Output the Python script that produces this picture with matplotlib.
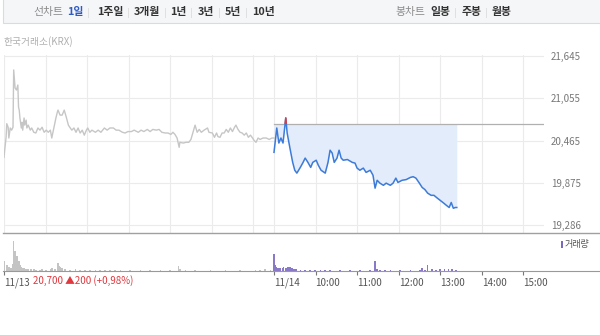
import numpy as np
import matplotlib
matplotlib.use('Agg')
import matplotlib.pyplot as plt
from matplotlib.patches import Rectangle
from matplotlib.lines import Line2D

plt.rcParams['font.family'] = ['Noto Sans CJK KR', 'DejaVu Sans']

# 11/13 (전일) 가격
prev_time = ["09:00", "09:01", "09:03", "09:04", "09:06", "09:07", "09:09", "09:11", "09:13", "09:14",
             "09:16", "09:18", "09:20", "09:21", "09:22", "09:23", "09:25", "09:26", "09:27", "09:29",
             "09:30", "09:32", "09:33", "09:35", "09:38", "09:40", "09:43", "09:46", "09:49", "09:52",
             "09:55", "09:58", "10:01", "10:04", "10:07", "10:09", "10:12", "10:15", "10:17", "10:18",
             "10:21", "10:24", "10:27", "10:30", "10:33", "10:35", "10:38", "10:41", "10:44", "10:47",
             "10:50", "10:53", "10:56", "10:59", "11:01", "11:04", "11:07", "11:12", "11:16", "11:20",
             "11:25", "11:29", "11:33", "11:38", "11:42", "11:46", "11:51", "11:55", "11:59", "12:04",
             "12:08", "12:14", "12:18", "12:22", "12:27", "12:31", "12:35", "12:40", "12:44", "12:48",
             "12:53", "12:57", "13:01", "13:04", "13:07", "13:10", "13:13", "13:14", "13:19", "13:23",
             "13:27", "13:30", "13:33", "13:36", "13:39", "13:42", "13:45", "13:49", "13:54", "13:56",
             "14:01", "14:04", "14:07", "14:09", "14:12", "14:15", "14:18", "14:21", "14:24", "14:27",
             "14:30", "14:33", "14:35", "14:38", "14:41", "14:44", "14:47", "14:50", "14:53", "14:56",
             "14:59", "15:01", "15:04", "15:07", "15:10", "15:14", "15:19", "15:23", "15:27", "15:30"]
prev_price = [20230, 20330, 20510, 20700, 20650, 20500, 20640, 20610, 20650, 21450,
              21200, 21170, 21240, 20930, 20890, 20780, 20640, 20720, 20610, 20780,
              20680, 20750, 20640, 20680, 20610, 20640, 20580, 20570, 20640, 20610,
              20650, 20580, 20610, 20580, 20610, 20500, 20640, 20780, 20860, 20890,
              20820, 20820, 20890, 20790, 20680, 20650, 20610, 20640, 20580, 20640,
              20570, 20610, 20540, 20610, 20640, 20580, 20610, 20580, 20610, 20580,
              20640, 20610, 20640, 20640, 20610, 20610, 20580, 20570, 20590, 20590,
              20610, 20580, 20610, 20590, 20620, 20590, 20620, 20610, 20620, 20580,
              20570, 20570, 20550, 20580, 20550, 20500, 20370, 20440, 20430, 20440,
              20440, 20480, 20580, 20680, 20580, 20620, 20580, 20610, 20640, 20580,
              20570, 20510, 20570, 20520, 20510, 20570, 20570, 20620, 20580, 20640,
              20590, 20650, 20680, 20620, 20580, 20570, 20540, 20570, 20510, 20540,
              20500, 20470, 20440, 20500, 20480, 20500, 20500, 20480, 20500, 20500]

# 11/14 (당일) 가격
today_time = ["09:00", "09:04", "09:07", "09:10", "09:13", "09:17", "09:19", "09:23", "09:27", "09:30",
              "09:33", "09:38", "09:42", "09:45", "09:49", "09:53", "09:56", "10:01", "10:04", "10:08",
              "10:14", "10:18", "10:21", "10:24", "10:27", "10:31", "10:34", "10:37", "10:40", "10:46",
              "10:53", "10:57", "11:00", "11:04", "11:09", "11:13", "11:19", "11:23", "11:26", "11:29",
              "11:33", "11:38", "11:42", "11:48", "11:52", "11:56", "11:59", "12:05", "12:11", "12:17",
              "12:21", "12:25", "12:30", "12:34", "12:38", "12:42", "12:47", "12:51", "12:56", "13:00",
              "13:04", "13:09", "13:13", "13:16", "13:19", "13:22", "13:24"]
today_price = [20300, 20640, 20430, 20500, 20430, 20780, 20570, 20360, 20160, 20050,
               20010, 20090, 20160, 20220, 20160, 20090, 20160, 20190, 20120, 20050,
               20010, 20160, 20330, 20290, 20160, 20220, 20330, 20220, 20190, 20200,
               20160, 20150, 20080, 20050, 20080, 20020, 20050, 19980, 19800, 19910,
               19870, 19840, 19870, 19840, 19870, 19940, 19880, 19910, 19920, 19950,
               19960, 19940, 19870, 19810, 19780, 19730, 19700, 19700, 19660, 19630,
               19600, 19560, 19530, 19600, 19520, 19530, 19530]

base_price = 20700

# 거래량
prev_vol_time = ["09:00", "09:01", "09:04", "09:07", "09:10", "09:13", "09:14", "09:16", "09:17", "09:19",
                 "09:20", "09:22", "09:23", "09:25", "09:26", "09:29", "09:32", "09:35", "09:38", "09:40",
                 "09:43", "09:46", "09:52", "09:55", "10:01", "10:07", "10:09", "10:14", "10:17", "10:18",
                 "10:20", "10:21", "10:24", "10:28", "10:35", "10:43", "10:50", "10:57", "11:04", "11:12",
                 "11:19", "11:26", "11:33", "11:40", "11:48", "12:02", "12:17", "12:31", "12:46", "13:00",
                 "13:12", "13:14", "13:22", "13:36", "13:58", "14:20", "14:41", "15:03", "15:10", "15:17",
                 "15:25", "15:30"]
prev_vol = [10000, 6000, 6000, 4000, 3000, 7000, 30000, 20000, 14000, 15000,
            8000, 10000, 6000, 4000, 3000, 3000, 2000, 2000, 2000, 2000,
            2000, 1500, 1500, 2000, 1000, 2000, 3000, 2000, 6000, 8000,
            5000, 4000, 3000, 2000, 1000, 2000, 1000, 1000, 1000, 1000,
            1000, 1000, 1000, 1000, 1500, 1000, 1000, 1000, 1000, 1000,
            5000, 2000, 1000, 1500, 1500, 1000, 1000, 1000, 1500, 2000,
            1500, 1500]

today_vol_time = ["09:00", "09:01", "09:02", "09:03", "09:06", "09:09", "09:12", "09:14", "09:17", "09:20",
                  "09:23", "09:26", "09:29", "09:32", "09:38", "09:45", "09:52", "09:59", "10:07", "10:14",
                  "10:21", "10:35", "10:50", "11:04", "11:19", "11:26", "11:29", "11:33", "11:40", "11:48",
                  "12:02", "12:17", "12:31", "12:34", "12:38", "12:42", "12:48", "12:54", "13:00", "13:06",
                  "13:12", "13:17", "13:23"]
today_vol = [17000, 8000, 6000, 4000, 3000, 3000, 3000, 4000, 3000, 4000,
             4000, 3000, 2000, 2000, 1500, 1000, 1500, 1000, 1000, 1500,
             1000, 1000, 1000, 1500, 1500, 10000, 2000, 1500, 1000, 1000,
             1000, 1000, 1500, 3000, 1000, 6000, 2000, 1000, 2000, 2000,
             2000, 2000, 1500]

y_ticks = [19286, 19875, 20465, 21055, 21645]
x_tick_pos = [0, 390, 450, 510, 570, 630, 690, 750]
x_tick_labels = ["11/13", "11/14", "10:00", "11:00", "12:00", "13:00", "14:00", "15:00"]


def to_min(hhmm, day):
    h, m = hhmm.split(':')
    return (int(h) - 9) * 60 + int(m) + day * 390


pt = np.array([to_min(t, 0) for t in prev_time])
tt = np.array([to_min(t, 1) for t in today_time])
pv_t = np.array([to_min(t, 0) for t in prev_vol_time])
tv_t = np.array([to_min(t, 1) for t in today_vol_time])
pp = np.array(prev_price)
tp = np.array(today_price)

W, H = 600, 335
fig = plt.figure(figsize=(6, 3.35), dpi=100)


def fx(px):
    return px / W


def fy(py):
    return 1 - py / H


# 상단 메뉴 바
fig.patches.append(Rectangle((fx(3), fy(23)), 1.0, 30 / H, transform=fig.transFigure,
                             facecolor='#f5f6f8', edgecolor='#d9dbe0', lw=0.8))
menu = [('선차트', 33, '#8a8a8a', 'normal'), ('1일', 67, '#2f5bc4', 'bold'),
        ('1주일', 97, '#333333', 'bold'), ('3개월', 134, '#333333', 'bold'),
        ('1년', 170, '#333333', 'bold'), ('3년', 198, '#333333', 'bold'),
        ('5년', 225, '#333333', 'bold'), ('10년', 252, '#333333', 'bold'),
        ('봉차트', 395, '#8a8a8a', 'normal'), ('일봉', 430, '#333333', 'bold'),
        ('주봉', 462, '#333333', 'bold'), ('월봉', 492, '#333333', 'bold')]
for txt, x, c, w in menu:
    fig.text(fx(x), fy(12), txt, ha='left', va='center', fontsize=7.8, color=c, fontweight=w)
for x in [88, 128, 165, 191, 219, 246, 455, 486]:
    fig.add_artist(Line2D([fx(x), fx(x)], [fy(8), fy(17)], color='#e0e0e0', lw=0.7))

fig.text(fx(3), fy(42), '한국거래소(KRX)', ha='left', va='center', fontsize=7, color='#b0b0b0')

# 가격 차트
ax = fig.add_axes([fx(4), fy(233), fx(544) - fx(4), (233 - 55) / H])
ax.set_xlim(0, 780)
ax.set_ylim(19174, 21659)
for s in ax.spines.values():
    s.set_visible(False)
ax.set_xticks([])
ax.yaxis.tick_right()
ax.set_yticks(y_ticks)
ax.set_yticklabels([f"{v:,}" for v in y_ticks])
ax.tick_params(axis='y', length=0, pad=5, labelsize=7, labelcolor='#777777')
for v in y_ticks:
    ax.axhline(v, color='#ebebeb', lw=0.8, zorder=0)
for x in list(range(0, 361, 60)) + [390] + list(range(450, 751, 60)):
    ax.axvline(x, color='#ebebeb', lw=0.8, zorder=0)

ax.plot(pt, pp, color='#c6c6c6', lw=1.0, zorder=2)
ax.fill_between(tt, tp, base_price, color='#e2ecfa', lw=0, zorder=1)
ax.plot([390, 780], [base_price, base_price], color='#b0b0b0', lw=0.9, zorder=2)
ax.plot(tt, tp, color='#3d7bd9', lw=1.1, zorder=3)
red, = ax.plot(tt, tp, color='#e03a3a', lw=1.1, zorder=4)
clip = Rectangle((390, base_price), 400, 2000, transform=ax.transData)
red.set_clip_path(clip)

# 거래량
axv = fig.add_axes([fx(4), fy(271), fx(544) - fx(4), 37 / H])
axv.set_xlim(0, 780)
axv.set_ylim(0, 37000)
for s in axv.spines.values():
    s.set_visible(False)
axv.set_yticks([])
axv.bar(pv_t, prev_vol, width=2.2, color='#c4c4c4', lw=0)
axv.bar(tv_t, today_vol, width=2.2, color='#8a78c8', lw=0)
axv.set_xticks(x_tick_pos)
axv.set_xticklabels(x_tick_labels)
axv.tick_params(axis='x', length=3, width=0.8, color='#777777', pad=2, labelsize=7, labelcolor='#555555')
for lbl in axv.get_xticklabels():
    lbl.set_ha('left')

fig.add_artist(Line2D([fx(3), 1], [fy(233), fy(233)], color='#a0a0a0', lw=1.0))
fig.add_artist(Line2D([fx(3), 1], [fy(271), fy(271)], color='#999999', lw=0.8))

fig.patches.append(Rectangle((fx(561), fy(248)), 2 / W, 7 / H, transform=fig.transFigure,
                             facecolor='#7a68c0', lw=0))
fig.text(fx(565), fy(244.5), '거래량', ha='left', va='center', fontsize=6.5, color='#555555')

fig.text(fx(33), fy(281), '20,700 ▲200 (+0,98%)', ha='left', va='center', fontsize=7, color='#e0383e')

fig.savefig('out.png', dpi=100)
